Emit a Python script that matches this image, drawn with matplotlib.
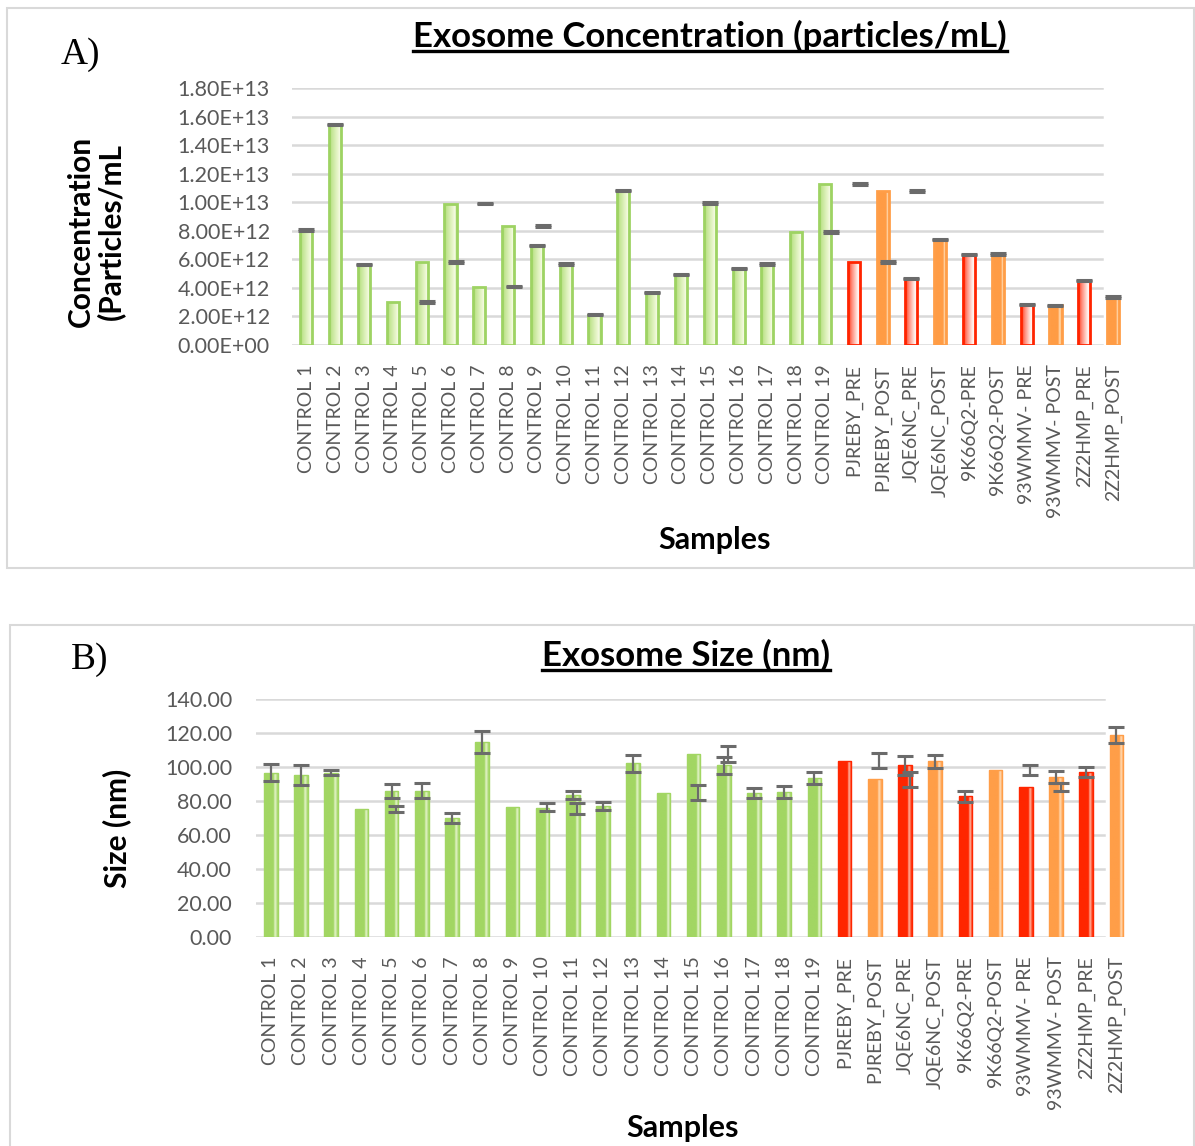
import numpy as np
import matplotlib
matplotlib.use('Agg')
import matplotlib.pyplot as plt
from matplotlib.colors import LinearSegmentedColormap
from matplotlib.patches import Rectangle
from matplotlib.lines import Line2D

plt.rcParams['font.family'] = ['Lato', 'DejaVu Sans']

samples = ['CONTROL 1', 'CONTROL 2', 'CONTROL 3', 'CONTROL 4', 'CONTROL 5',
           'CONTROL 6', 'CONTROL 7', 'CONTROL 8', 'CONTROL 9', 'CONTROL 10',
           'CONTROL 11', 'CONTROL 12', 'CONTROL 13', 'CONTROL 14', 'CONTROL 15',
           'CONTROL 16', 'CONTROL 17', 'CONTROL 18', 'CONTROL 19',
           'PJREBY_PRE', 'PJREBY_POST', 'JQE6NC_PRE', 'JQE6NC_POST',
           '9K66Q2-PRE', '9K66Q2-POST', '93WMMV- PRE', '93WMMV- POST',
           '2Z2HMP_PRE', '2Z2HMP_POST']
groups = ['control'] * 19 + ['pre', 'post'] * 5

# concentration, particles/mL
conc = np.array([8.04, 15.44, 5.62, 3.02, 5.80, 9.90, 4.08, 8.33, 6.97, 5.67,
                 2.13, 10.81, 3.67, 4.92, 9.94, 5.36, 5.67, 7.92, 11.29,
                 5.80, 10.79, 4.66, 7.38, 6.32, 6.37, 2.85, 2.78, 4.51, 3.36]) * 1e12
conc_err = np.full(len(conc), 0.05e12)
# where each error bar ended up: on its own bar or shifted onto the next slot
conc_err_pos = ['on', 'on', 'on', 'next', 'next', 'next', 'next', 'next', 'on', 'on',
                'on', 'on', 'on', 'on', 'on', 'on', 'on', 'next', 'next',
                'next', 'next', 'on', 'on', 'on', 'on', 'on', 'on', 'on', 'on']

# size, nm
size = [96.7, 95.3, 96.7, 75.2, 86.0, 86.0, 70.0, 114.9, 76.4, 75.6,
        83.6, 77.0, 102.1, 85.0, 107.5, 100.9, 84.8, 85.2, 93.5,
        103.7, 92.9, 100.9, 103.3, 82.8, 98.1, 88.2, 94.1, 96.9, 118.7]
size_err = [4.8, 5.8, 1.6, 1.8, 4.0, 4.5, 2.9, 6.5, 2.4, 3.4,
            2.2, 2.5, 4.8, 4.7, 4.6, 4.8, 3.0, 3.7, 3.6,
            4.4, 4.4, 5.5, 3.8, 3.3, 3.0, 2.4, 3.7, 2.9, 4.8]
size_err_pos = ['on', 'on', 'on', 'next', 'on', 'on', 'on', 'on', 'next', 'next',
                'on', 'on', 'on', 'next', 'next', 'on', 'on', 'on', 'on',
                'next', 'next', 'on', 'on', 'on', 'next', 'next', 'on', 'on', 'on']

W, H = 1195, 1146
fig = plt.figure(figsize=(W / 100, H / 100), dpi=100)

TICK = '#595959'
GRID = '#D9D9D9'
ERR = '#6B6B6B'

# fill profiles across the bar width (left -> right)
fill_a = {
    'control': ('#9ED363', [(0, '#A6D96C'), (0.2, '#C2E592'), (0.75, '#EEF8D4'), (0.86, '#F6FBE8'), (1, '#A6D96C')]),
    'pre': ('#FF2400', [(0, '#FF3212'), (0.3, '#FF8C7A'), (0.75, '#FFF0EC'), (1, '#FFFFFF')]),
    'post': ('#FF9E48', [(0, '#FF9C45'), (0.7, '#FF9C45'), (0.82, '#FFD8AE'), (0.92, '#FFC788'), (1, '#FF9C45')]),
}
fill_b = {
    'control': ('#A2D663', [(0, '#A2D663'), (0.68, '#A2D663'), (0.8, '#E6F4CC'), (0.9, '#C4E59A'), (1, '#A2D663')]),
    'pre': ('#FF2600', [(0, '#FF2600'), (0.68, '#FF2600'), (0.8, '#FFB8A6'), (0.9, '#FF6A4A'), (1, '#FF2600')]),
    'post': ('#FF9E48', [(0, '#FF9E48'), (0.68, '#FF9E48'), (0.8, '#FFDDB8'), (0.9, '#FFBE80'), (1, '#FF9E48')]),
}


def px_axes(x0, y0, x1, y1):
    return fig.add_axes([x0 / W, 1 - y1 / H, (x1 - x0) / W, (y1 - y0) / H])


def shade_bars(ax, bars, styles, lw):
    grad = np.linspace(0, 1, 64).reshape(1, -1)
    for bar, g in zip(bars, groups):
        ec, stops = styles[g]
        cmap = LinearSegmentedColormap.from_list('f', stops)
        x, y, w, h = bar.get_x(), bar.get_y(), bar.get_width(), bar.get_height()
        im = ax.imshow(grad, cmap=cmap, extent=[x, x + w, y, y + h], aspect='auto',
                       interpolation='bilinear', zorder=2)
        im.set_clip_path(bar)
        bar.set_edgecolor(ec)
        bar.set_linewidth(lw)


def draw_errs(ax, vals, errs, pos, shift, capsize, lw):
    x = np.arange(len(vals))
    on = np.array([p == 'on' for p in pos])
    nx = np.array([p == 'next' for p in pos])
    vals = np.asarray(vals, dtype=float)
    errs = np.asarray(errs, dtype=float)
    ax.errorbar(x[on], vals[on], yerr=errs[on], fmt='none', ecolor=ERR,
                elinewidth=lw, capsize=capsize, capthick=lw + 0.6, zorder=5)
    ax.errorbar(x[nx] + 1 + shift, vals[nx], yerr=errs[nx], fmt='none', ecolor=ERR,
                elinewidth=lw, capsize=capsize, capthick=lw + 0.6, zorder=5)


def style_axis(ax, ticks, fmt, grid_end, ytick_pad, xtick_pad, xfs, yfs):
    ax.set_yticks(ticks)
    ax.set_yticklabels([fmt(t) for t in ticks])
    for t in ticks:
        ax.axhline(t, xmin=0, xmax=grid_end, color=GRID, lw=1.8, zorder=0)
    for s in ax.spines.values():
        s.set_visible(False)
    ax.tick_params(axis='y', length=0, pad=ytick_pad, labelsize=yfs, labelcolor=TICK)
    ax.tick_params(axis='x', length=0, pad=xtick_pad, labelsize=xfs, labelcolor=TICK)
    ax.set_xticks(np.arange(len(samples)))
    ax.set_xticklabels(samples, rotation=90, va='top', ha='center')
    ax.set_xlim(-0.5, len(samples) - 0.5)
    ax.set_facecolor('none')


def underlined(x, y, s, size):
    t = fig.text(x / W, 1 - y / H, s, fontsize=size, fontweight='bold',
                 ha='center', va='baseline', color='black')
    bb = t.get_window_extent(fig.canvas.get_renderer())
    base = (H - y) - 4
    fig.add_artist(Line2D([bb.x0, bb.x1], [base, base], color='black', lw=2.4,
                          transform=None))
    return t


# panel frames
fig.add_artist(Rectangle((7 / W, 1 - 568 / H), 1187 / W, 560 / H, transform=fig.transFigure,
                         fill=False, edgecolor='#D9D9D9', lw=1.5))
fig.add_artist(Rectangle((10 / W, -0.01), 1184 / W, 1 - 625 / H + 0.01, transform=fig.transFigure,
                         fill=False, edgecolor='#D9D9D9', lw=1.5))

# ---- A) concentration
axA = px_axes(292, 88, 1127.5, 345)
x = np.arange(len(samples))
barsA = axA.bar(x, conc, width=0.42, color='none', zorder=3)
shade_bars(axA, barsA, fill_a, 2.0)
draw_errs(axA, conc, conc_err, conc_err_pos, 0.2, 5.6, 1.6)
style_axis(axA, np.arange(0, 1.81e13, 2e12), lambda v: f'{v:.2E}', 0.97, 16, 14, 14, 15.5)
axA.set_ylim(0, 1.8e13)

fig.text(80 / W, 1 - 55 / H, 'A)', fontsize=27, family='Liberation Serif', ha='center', va='center')
underlined(710, 47, 'Exosome Concentration (particles/mL)', 25)
fig.text(715 / W, 1 - 540 / H, 'Samples', fontsize=22, fontweight='bold', ha='center', va='center')
fig.text(96 / W, 1 - 231 / H, 'Concentration\n(Particles/mL', fontsize=21.5, fontweight='bold',
         rotation=90, ha='center', va='center', linespacing=1.05)

# ---- B) size
axB = px_axes(255.7, 699, 1131.5, 937)
barsB = axB.bar(x, size, width=0.45, color='none', zorder=3)
shade_bars(axB, barsB, fill_b, 1.0)
draw_errs(axB, size, size_err, size_err_pos, 0.15, 5.5, 1.6)
style_axis(axB, np.arange(0, 141, 20), lambda v: f'{v:.2f}', 0.969, 17, 14, 14, 15.5)
axB.set_ylim(0, 140)

fig.text(90 / W, 1 - 660 / H, 'B)', fontsize=27, family='Liberation Serif', ha='center', va='center')
underlined(686, 666, 'Exosome Size (nm)', 25)
fig.text(683 / W, 1 - 1128 / H, 'Samples', fontsize=22, fontweight='bold', ha='center', va='center')
fig.text(117 / W, 1 - 828 / H, 'Size (nm)', fontsize=21.5, fontweight='bold',
         rotation=90, ha='center', va='center')

fig.savefig('out.png', dpi=100)
